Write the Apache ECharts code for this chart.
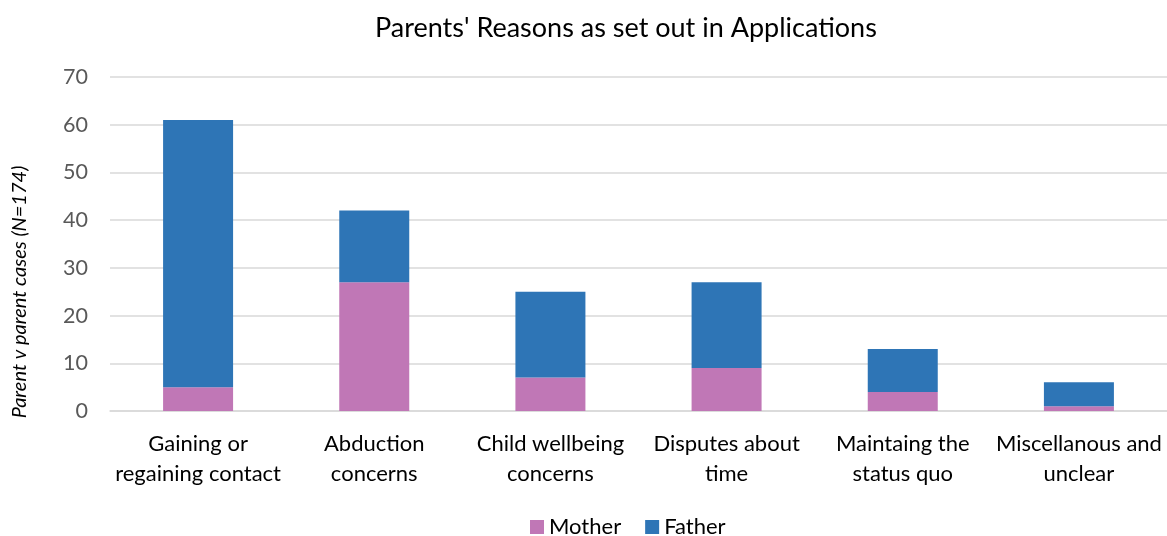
<!DOCTYPE html>
<html><head><meta charset="utf-8">
<script src="https://cdn.jsdelivr.net/npm/echarts@6/dist/echarts.min.js"></script>
<style>html,body{margin:0;padding:0;background:#fff}#c{width:1167px;height:536px}</style>
</head><body><div id="c"></div>
<script>
const categories = ['Gaining or\nregaining contact','Abduction\nconcerns','Child wellbeing\nconcerns','Disputes about\ntime','Maintaing the\nstatus quo','Miscellanous and\nunclear'];
const mother = [5, 27, 7, 9, 4, 1];
const father = [56, 15, 18, 18, 9, 5];
const chart = echarts.init(document.getElementById('c'));
const F = 'Lato, "Noto Sans", sans-serif';
chart.setOption({
  animation: false,
  title: { text: "Parents' Reasons as set out in Applications", left: 370, top: 10,
    textStyle: { fontFamily: F, fontSize: 27, fontWeight: 'normal', color: '#000' } },
  legend: { data: ['Mother','Father'], top: 511, left: 525, itemWidth: 14, itemHeight: 14, itemGap: 24,
    icon: 'rect', textStyle: { fontFamily: F, fontSize: 22, color: '#000' } },
  grid: { left: 110, right: 0, top: 77, bottom: 125, containLabel: false },
  xAxis: { type: 'category', data: categories,
    axisLine: { show: true, lineStyle: { color: '#d9d9d9', width: 1.5 } },
    axisTick: { show: false },
    axisLabel: { fontFamily: F, fontSize: 22, color: '#000', lineHeight: 30, margin: 18, interval: 0 } },
  yAxis: { type: 'value', min: 0, max: 70, interval: 10,
    name: 'Parent v parent cases (N=174)', nameLocation: 'middle', nameGap: 80,
    nameTextStyle: { fontFamily: F, fontSize: 20, fontStyle: 'italic', color: '#000', padding: [0, 96, 0, 0] },
    axisLine: { show: false }, axisTick: { show: false },
    axisLabel: { fontFamily: F, fontSize: 21.5, color: '#595959', margin: 22 },
    splitLine: { lineStyle: { color: '#d9d9d9', width: 1.5 } } },
  series: [
    { name: 'Mother', type: 'bar', stack: 's', data: mother, barWidth: 70, itemStyle: { color: '#C077B6' } },
    { name: 'Father', type: 'bar', stack: 's', data: father, barWidth: 70, itemStyle: { color: '#2E75B6' } }
  ]
});
</script></body></html>
